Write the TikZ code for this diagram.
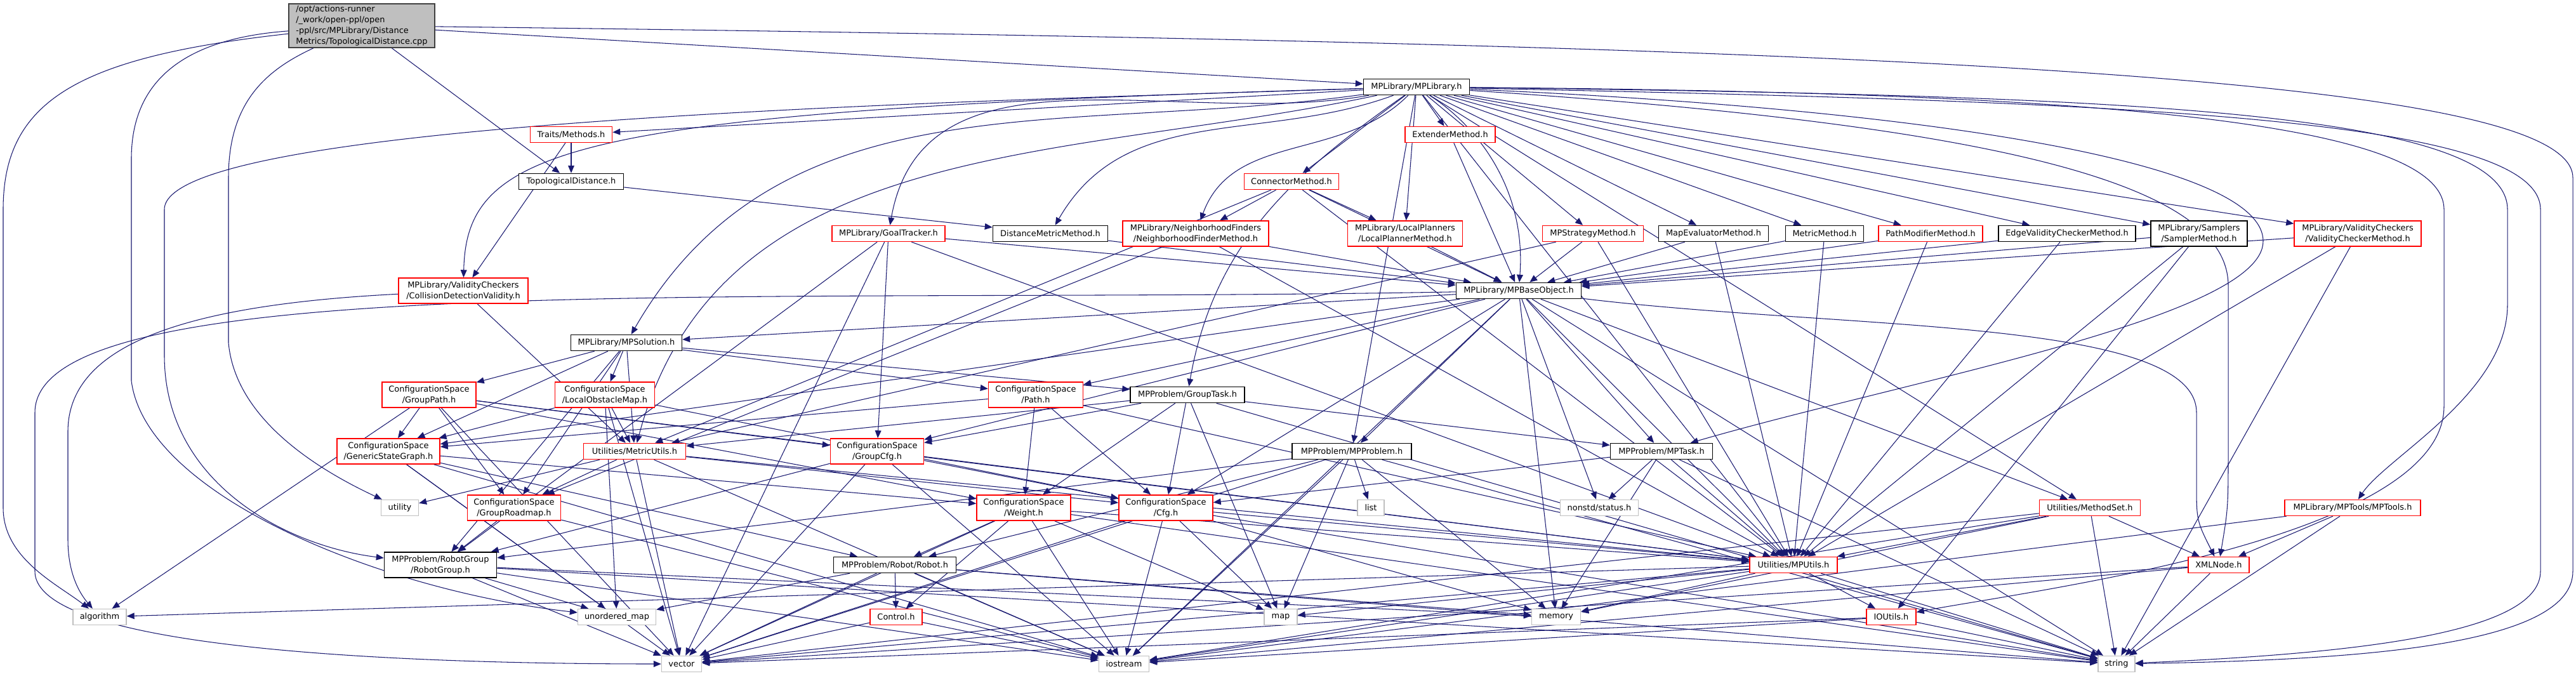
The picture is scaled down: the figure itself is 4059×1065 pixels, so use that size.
\documentclass[tikz,border=0pt]{standalone}
\usepackage{fontspec}
\setmainfont{DejaVu Sans}
\usetikzlibrary{arrows.meta}
\definecolor{EdgeBlue}{HTML}{191970}
\definecolor{HdrRed}{HTML}{FF0000}
\definecolor{HdrGray}{HTML}{BFBFBF}
\definecolor{HdrDark}{HTML}{000000}
\pgfdeclarelayer{background}
\pgfsetlayers{background,main}

\begin{document}
\begin{tikzpicture}[x=0.025cm, y=-0.025cm,
    hdr/.style={draw, fill=white, line width=1.1pt, inner sep=1pt,
                minimum height=0.625cm, align=center,
                font=\fontsize{9.2}{12.1}\selectfont},
    hdrdone/.style={hdr, draw=HdrDark},
    hdrcut/.style={hdr, draw=HdrRed},
    hdrsys/.style={hdr, draw=HdrGray, line width=1pt},
    twoline/.style={minimum height=1cm},
    boxw/.style={minimum width=#1*0.025cm},
    dep/.style={-{Triangle[length=8.5pt, width=7pt]}, EdgeBlue, line width=0.75pt}]
  \useasboundingbox (0,0) rectangle (4059,1065);

  % source file
  \node[hdr, draw=HdrDark!75, fill=HdrGray, align=left, boxw=230, minimum height=1.725cm]
    (main) at (570,40.5) {/opt/actions-runner\\/\_work/open-ppl/open\\-ppl/src/MPLibrary/Distance\\Metrics/TopologicalDistance.cpp};

  % library level
  \node[hdrdone, boxw=167] (mplib) at (2232,137) {MPLibrary/MPLibrary.h};
  \node[hdrcut, boxw=129] (traits) at (900,212) {Traits/Methods.h};
  \node[hdrcut, boxw=142] (extender) at (2285,212) {ExtenderMethod.h};
  \node[hdrdone, boxw=165] (topo) at (900,286) {TopologicalDistance.h};
  \node[hdrcut, boxw=149] (connector) at (2035,286) {ConnectorMethod.h};

  % method headers
  \node[hdrcut, boxw=178] (goal) at (1400,368) {MPLibrary/GoalTracker.h};
  \node[hdrdone, boxw=181] (dmm) at (1655,368) {DistanceMetricMethod.h};
  \node[hdrcut, twoline, boxw=230] (nfm) at (1884,368) {MPLibrary/NeighborhoodFinders\\/NeighborhoodFinderMethod.h};
  \node[hdrcut, twoline, boxw=181] (lpm) at (2214,368) {MPLibrary/LocalPlanners\\/LocalPlannerMethod.h};
  \node[hdrcut, boxw=159] (strat) at (2510,368) {MPStrategyMethod.h};
  \node[hdrdone, boxw=173] (mapeval) at (2700,368) {MapEvaluatorMethod.h};
  \node[hdrdone, boxw=123] (metric) at (2875,368) {MetricMethod.h};
  \node[hdrcut, boxw=164] (pathmod) at (3042,368) {PathModifierMethod.h};
  \node[hdrdone, boxw=216] (evc) at (3257,368) {EdgeValidityCheckerMethod.h};
  \node[hdrdone, twoline, boxw=152] (sampler) at (3465,368) {MPLibrary/Samplers\\/SamplerMethod.h};
  \node[hdrcut, twoline, boxw=200] (vcm) at (3715,368) {MPLibrary/ValidityCheckers\\/ValidityCheckerMethod.h};

  \node[hdrcut, twoline, boxw=204] (cdv) at (730,458) {MPLibrary/ValidityCheckers\\/CollisionDetectionValidity.h};
  \node[hdrdone, boxw=197] (base) at (2393,458) {MPLibrary/MPBaseObject.h};
  \node[hdrdone, boxw=175] (solution) at (987,540) {MPLibrary/MPSolution.h};

  % configuration space and problem
  \node[hdrcut, twoline, boxw=148] (grouppath) at (676,622) {ConfigurationSpace\\/GroupPath.h};
  \node[hdrcut, twoline, boxw=157] (lom) at (953,622) {ConfigurationSpace\\/LocalObstacleMap.h};
  \node[hdrcut, twoline, boxw=149] (path) at (1632,622) {ConfigurationSpace\\/Path.h};
  \node[hdrdone, boxw=180] (grouptask) at (1871,622) {MPProblem/GroupTask.h};
  \node[hdrcut, twoline, boxw=162] (gsg) at (612,711) {ConfigurationSpace\\/GenericStateGraph.h};
  \node[hdrcut, boxw=161] (metricutils) at (1000,711) {Utilities/MetricUtils.h};
  \node[hdrcut, twoline, boxw=147] (groupcfg) at (1382,711) {ConfigurationSpace\\/GroupCfg.h};
  \node[hdrdone, boxw=188] (problem) at (2130,711) {MPProblem/MPProblem.h};
  \node[hdrdone, boxw=161] (task) at (2618,711) {MPProblem/MPTask.h};

  \node[hdrsys, boxw=59] (utility) at (630,800) {utility};
  \node[hdrcut, twoline, boxw=147] (roadmap) at (810,800) {ConfigurationSpace\\/GroupRoadmap.h};
  \node[hdrcut, twoline, boxw=148] (weight) at (1613,800) {ConfigurationSpace\\/Weight.h};
  \node[hdrcut, twoline, boxw=148] (cfg) at (1837,800) {ConfigurationSpace\\/Cfg.h};
  \node[hdrsys, boxw=42] (list) at (2160,800) {list};
  \node[hdrsys, boxw=123] (status) at (2520,800) {nonstd/status.h};
  \node[hdrcut, boxw=159] (methodset) at (3293,800) {Utilities/MethodSet.h};
  \node[hdrcut, boxw=214] (mptools) at (3707,800) {MPLibrary/MPTools/MPTools.h};

  \node[hdrdone, twoline, boxw=177] (robotgroup) at (694,890) {MPProblem/RobotGroup\\/RobotGroup.h};
  \node[hdrdone, boxw=193] (robot) at (1410,890) {MPProblem/Robot/Robot.h};
  \node[hdrcut, boxw=138] (mputils) at (2826,890) {Utilities/MPUtils.h};
  \node[hdrcut, boxw=96] (xmlnode) at (3496,890) {XMLNode.h};

  % system headers
  \node[hdrsys, boxw=84] (algorithm) at (157,972) {algorithm};
  \node[hdrsys, boxw=123] (umap) at (972,972) {unordered\_map};
  \node[hdrcut, boxw=82] (control) at (1412,972) {Control.h};
  \node[hdrsys, boxw=52] (map) at (2018,972) {map};
  \node[hdrsys, boxw=77] (memory) at (2452,972) {memory};
  \node[hdrcut, boxw=78] (ioutils) at (2980,972) {IOUtils.h};
  \node[hdrsys, boxw=63] (vector) at (1074,1046) {vector};
  \node[hdrsys, boxw=79] (iostream) at (1771,1046) {iostream};
  \node[hdrsys, boxw=58] (string) at (3335,1046) {string};

  \begin{pgfonlayer}{background}
  % includes of the source file
  \path[dep] (main) edge (topo) edge (mplib);
  \draw[dep] (main) .. controls (120,90) and (5,160) .. (5,330) -- (5,800)
    .. controls (5,880) and (90,920) .. (algorithm);
  \draw[dep] (main) .. controls (300,60) and (207,120) .. (207,250) -- (207,600)
    .. controls (230,780) and (600,930) .. (umap);
  \draw[dep] (main) .. controls (420,110) and (360,160) .. (360,280) -- (360,540)
    .. controls (370,650) and (480,730) .. (utility);
  \draw[dep] (main) .. controls (3000,70) and (4054,120) .. (4054,280) -- (4054,900)
    .. controls (4054,1020) and (3700,1040) .. (string);

  % MPLibrary.h
  \path[dep] (mplib) edge (traits) edge (connector)
    edge (extender) edge (lpm) edge (strat) edge (mapeval) edge (metric) edge (pathmod)
    edge (evc) edge (sampler) edge (vcm) edge (problem) edge (methodset) edge (mputils);
  \path[dep] (mplib) edge[out=190, in=80] (goal) edge[out=200, in=60] (dmm)
    edge[out=225, in=70] (nfm) edge[out=188, in=60] (solution)
    edge[out=192, in=75] (metricutils) edge[out=215, in=80] (grouptask);
  \draw[dep] (mplib) .. controls (900,175) and (735,230) .. (cdv);
  \draw[dep] (mplib) .. controls (1500,160) and (259,190) .. (259,330) -- (259,560)
    .. controls (259,760) and (450,860) .. (robotgroup);
  \draw[dep] (mplib) .. controls (2330,200) and (2405,300) .. (base);
  \draw[dep] (mplib) .. controls (3300,160) and (4003,180) .. (4003,330) -- (4003,900)
    .. controls (4003,1000) and (3700,1030) .. (string);
  \draw[dep] (mplib) .. controls (3300,150) and (3951,170) .. (3951,330) -- (3951,480)
    .. controls (3951,620) and (3760,720) .. (mptools);
  \draw[dep] (mplib) .. controls (3200,145) and (3851,180) .. (3851,330) -- (3851,640)
    .. controls (3851,850) and (3200,930) .. (ioutils);
  \draw[dep] (mplib) .. controls (3000,170) and (3566,250) .. (3566,380)
    .. controls (3566,500) and (3000,600) .. (task);
  \draw[dep] (mplib) .. controls (3200,200) and (3511,300) .. (3511,450) -- (3511,700)
    .. controls (3511,800) .. (xmlnode);

  % method headers
  \path[dep] (traits) edge (topo) edge (cdv);
  \path[dep] (topo) edge (dmm);
  \path[dep] (cdv) edge (metricutils);
  \draw[dep] (cdv) .. controls (300,480) and (107,540) .. (107,680) -- (107,850)
    .. controls (107,910) and (130,940) .. (algorithm);
  \path[dep] (goal) edge (base) edge (groupcfg) edge (robotgroup) edge (mputils) edge (vector);
  \path[dep] (dmm) edge (base);
  \path[dep] (nfm) edge (base) edge (roadmap) edge (mputils);
  \path[dep] (connector) edge (nfm) edge (lpm) edge (base) edge (mputils) edge (metricutils);
  \path[dep] (extender) edge (base);
  \path[dep] (lpm) edge (base);
  \path[dep] (strat) edge (base) edge (metricutils) edge (mputils);
  \path[dep] (mapeval) edge (base) edge (mputils);
  \path[dep] (metric) edge (base) edge (mputils);
  \path[dep] (pathmod) edge (base) edge (mputils);
  \path[dep] (evc) edge (base) edge (mputils);
  \path[dep] (sampler) edge (base) edge (mputils) edge (ioutils);
  \path[dep] (vcm) edge (base) edge (mputils) edge (string);

  % MPBaseObject.h
  \path[dep] (base) edge (solution) edge (path) edge (problem) edge (task) edge (status)
    edge (methodset) edge (mputils) edge (iostream) edge (string) edge (memory)
    edge (gsg) edge (groupcfg) edge (cfg);
  \draw[dep] (base) .. controls (1200,480) and (55,420) .. (55,650) -- (55,900)
    .. controls (55,1030) and (700,1046) .. (vector);
  \draw[dep] (base) .. controls (2900,520) and (3461,500) .. (3461,650) -- (3461,760)
    .. controls (3461,820) .. (xmlnode);

  % lower levels
  \path[dep] (solution) edge (grouppath) edge (lom) edge (path) edge (gsg) edge (metricutils)
    edge (roadmap) edge (robotgroup) edge (grouptask);
  \path[dep] (grouppath) edge (algorithm) edge (vector) edge (gsg) edge (roadmap)
    edge (groupcfg) edge (mputils) edge (weight);
  \path[dep] (lom) edge (gsg) edge (umap) edge (metricutils) edge (cfg) edge (vector);
  \path[dep] (path) edge (gsg) edge (weight) edge (cfg) edge (mputils);
  \path[dep] (grouptask) edge (groupcfg) edge (weight) edge (cfg) edge (map) edge (task)
    edge (string) edge (metricutils);
  \path[dep] (gsg) edge (weight) edge (robot) edge (umap) edge (vector) edge (iostream);
  \path[dep] (metricutils) edge (utility) edge (vector) edge (iostream) edge (mputils)
    edge (cfg) edge (roadmap);
  \path[dep] (groupcfg) edge (cfg) edge (iostream) edge (vector) edge (robotgroup) edge (mputils);
  \path[dep] (problem) edge (list) edge (memory) edge (vector) edge (iostream) edge (string)
    edge (map) edge (robot) edge (robotgroup);
  \path[dep] (task) edge (status) edge (memory) edge (mputils) edge (string) edge (cfg);
  \path[dep] (roadmap) edge (robotgroup) edge (iostream);
  \path[dep] (weight) edge (robot) edge (control) edge (iostream) edge (vector) edge (mputils)
    edge (string) edge (map);
  \path[dep] (cfg) edge (vector) edge (iostream) edge (map) edge (mputils) edge (string) edge (memory);
  \path[dep] (robotgroup) edge (umap) edge (vector) edge (iostream) edge (string) edge (memory);
  \path[dep] (robot) edge (umap) edge (vector) edge (control) edge (iostream) edge (string) edge (memory);
  \path[dep] (control) edge (vector) edge (iostream);
  \path[dep] (methodset) edge (xmlnode) edge (string) edge (memory) edge (vector) edge (iostream)
    edge (mputils);
  \path[dep] (mptools) edge (xmlnode) edge (string) edge (iostream);
  \path[dep] (xmlnode) edge (string) edge (vector) edge (iostream);
  \path[dep] (mputils) edge (ioutils) edge (memory) edge (algorithm) edge (map) edge (iostream)
    edge (vector) edge (string);
  \path[dep] (ioutils) edge (vector) edge (iostream) edge (string);
  \end{pgfonlayer}
\end{tikzpicture}
\end{document}
